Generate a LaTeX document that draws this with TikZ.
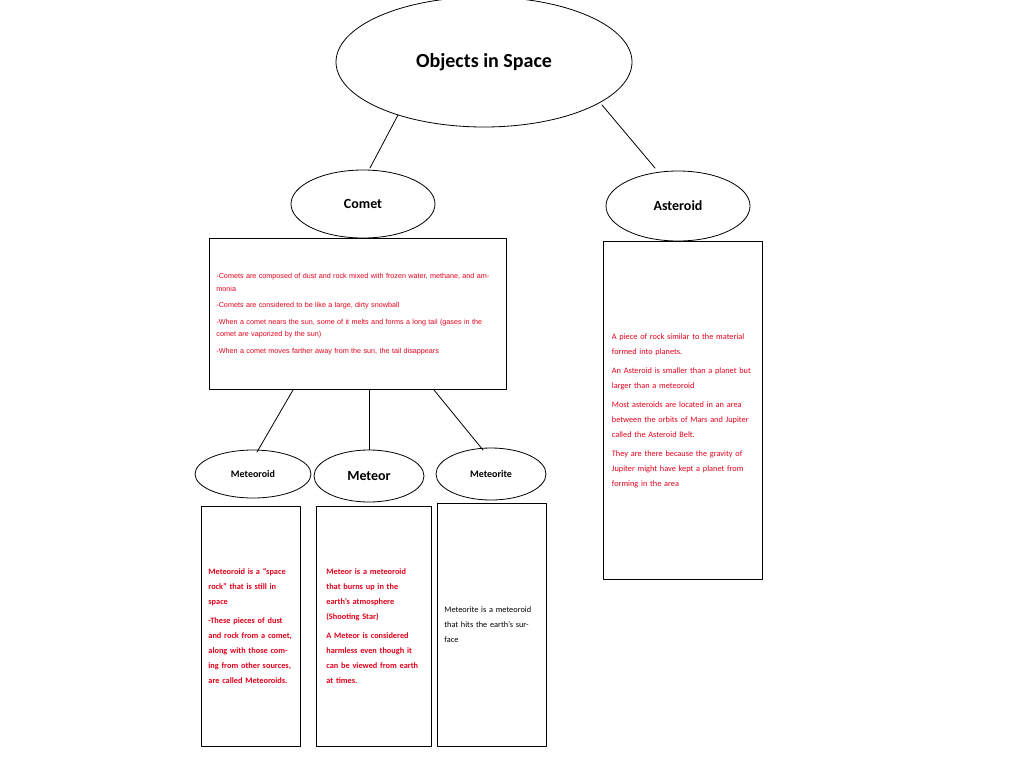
\documentclass[tikz,border=0pt]{standalone}
\usepackage{fontspec}
\setmainfont{Carlito}
\newfontfamily\arialfont{Liberation Sans}
\usetikzlibrary{shapes.geometric}
\definecolor{txtred}{RGB}{226,0,26}
\tikzset{
  bubble/.style={draw, ellipse, thick, inner sep=0pt, font=\bfseries\fontsize{14}{16}\selectfont},
  infobox/.style={draw, thick, anchor=north west, align=left, inner xsep=7pt, inner ysep=6pt,
    text=txtred, font=\fontsize{8.3}{15}\selectfont},
  link/.style={thick}
}
\begin{document}
\begin{tikzpicture}[x=1pt, y=1pt, line cap=round, line join=round]
		\useasboundingbox (0,0) rectangle (1024,-768);
		
		% top
		\node [bubble, minimum width=296, minimum height=130, font=\bfseries\fontsize{20}{24}\selectfont] (space) at (484,-62) {Objects in Space};
		\node [bubble, minimum width=144, minimum height=68] (comet) at (363,-204) {Comet};
		\node [bubble, minimum width=144, minimum height=70] (asteroid) at (678,-206) {Asteroid};
		\draw [link] (398,-115) -- (370,-168);
		\draw [link] (602,-105) -- (655,-168);
		
		% comet box
		\node [infobox, minimum width=297, minimum height=151, text width=283, anchor=north west, inner ysep=8pt,
		  font=\arialfont\fontsize{7.2}{12.5}\selectfont] (cometbox) at (209,-238) {%
		  -Comets are composed of dust and rock mixed with frozen water, methane, and ammonia\\[4pt]
		  -Comets are considered to be like a large, dirty snowball\\[4pt]
		  -When a comet nears the sun, some of it melts and forms a long tail (gases in the comet are vaporized by the sun)\\[4pt]
		  -When a comet moves farther away from the sun, the tail disappears};
		
		% asteroid box
		\node [infobox, minimum width=159, minimum height=338, text width=142] (asteroidbox) at (603,-241) {%
		  A piece of rock similar to the material formed into planets.\\[4pt]
		  An Asteroid is smaller than a planet but larger than a meteoroid\\[4pt]
		  Most asteroids are located in an area between the orbits of Mars and Jupiter called the Asteroid Belt.\\[4pt]
		  They are there because the gravity of Jupiter might have kept a planet from forming in the area};
		
		% lower bubbles
		\node [bubble, minimum width=116, minimum height=48, font=\bfseries\fontsize{10}{12}\selectfont] (meteoroid) at (253,-474) {Meteoroid};
		\node [bubble, minimum width=110, minimum height=52] (meteor) at (369,-476) {Meteor};
		\node [bubble, minimum width=110, minimum height=52, font=\bfseries\fontsize{10}{12}\selectfont] (meteorite) at (491,-474) {Meteorite};
		\draw [link] (293,-390) -- (257,-452);
		\draw [link] (cometbox.south -| meteor) -- (meteor.north);
		\draw [link] (434,-390) -- (483,-450);
		
		% lower boxes
		\node [infobox, minimum width=99, minimum height=240, text width=85, font=\bfseries\fontsize{8.3}{15}\selectfont] (meteoroidbox) at (201,-506) {%
		  Meteoroid is a ``space rock'' that is still in space\\[4pt]
		  -These pieces of dust and rock from a comet, along with those coming from other sources, are called Meteoroids.};
		\node [infobox, minimum width=115, minimum height=240, text width=95, font=\bfseries\fontsize{8.3}{15}\selectfont] (meteorbox) at (316,-506) {%
		  Meteor is a meteoroid that burns up in the earth's atmosphere (Shooting Star)\\[4pt]
		  A Meteor is considered harmless even though it can be viewed from earth at times.};
		\node [infobox, minimum width=109, minimum height=243, text width=95, text=black] (meteoritebox) at (437,-503) {%
		  Meteorite is a meteoroid that hits the earth's surface};
	\end{tikzpicture}
\end{document}
